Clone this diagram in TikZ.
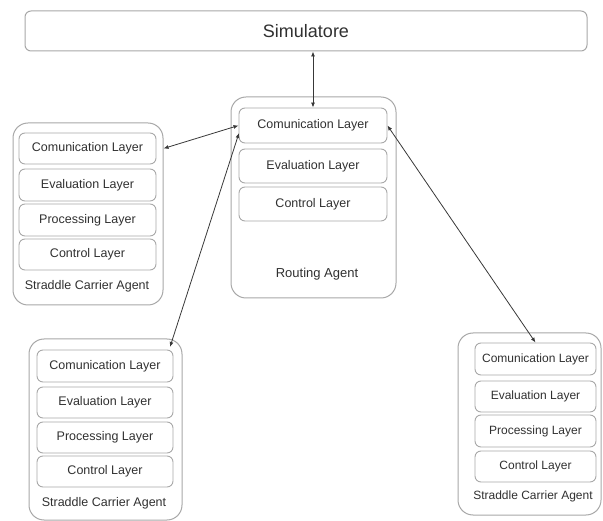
\documentclass[tikz,border=0pt]{standalone}
\usepackage{fontspec}
\setmainfont{Liberation Sans}
\usetikzlibrary{arrows.meta}
\definecolor{boxline}{HTML}{A8A8A8}
\definecolor{txt}{HTML}{303030}
\definecolor{arr}{HTML}{383838}
\begin{document}
\begin{tikzpicture}[x=1pt,y=-1pt,
  outerbox/.style={draw=boxline, line width=1pt, rounded corners=15pt, inner sep=0pt},
  layerbox/.style={draw=boxline, line width=0.9pt, rounded corners=6pt, inner sep=0pt, text=txt,
     font=\fontsize{12.5}{14}\selectfont},
  agentlabel/.style={text=txt, inner sep=0pt, font=\fontsize{12.5}{14}\selectfont},
  link/.style={draw=arr, line width=0.8pt, {Latex[length=5pt,width=4pt]}-{Latex[length=5pt,width=4pt]}}
]
\useasboundingbox (0,0) rectangle (603,521);

% Simulatore
\node[draw=boxline, line width=1pt, rounded corners=6pt, minimum width=562pt, minimum height=40pt,
  inner sep=0pt, text=txt, font=\fontsize{18}{20}\selectfont] (sim) at (306,31) {Simulatore};

% Left straddle carrier agent
\node[outerbox, minimum width=150pt, minimum height=182pt] (sca) at (88,214) {};
\node[layerbox, minimum width=137pt, minimum height=31pt] (acomm) at (87.5,148.5) {Comunication Layer};
\node[layerbox, minimum width=137pt, minimum height=32pt] (aeval) at (87.5,185) {Evaluation Layer};
\node[layerbox, minimum width=137pt, minimum height=32pt] (aproc) at (87.5,220) {Processing Layer};
\node[layerbox, minimum width=137pt, minimum height=31pt] (actrl) at (87.5,254.5) {Control Layer};
\node[agentlabel] (alab) at (87,286) {Straddle Carrier Agent};

% Routing agent
\node[outerbox, minimum width=165pt, minimum height=201pt] (ra) at (313.5,197.5) {};
\node[layerbox, minimum width=148pt, minimum height=35pt] (rcomm) at (313,125.5) {Comunication Layer};
\node[layerbox, minimum width=148pt, minimum height=34pt] (reval) at (313,166) {Evaluation Layer};
\node[layerbox, minimum width=148pt, minimum height=34pt] (rctrl) at (313,204) {Control Layer};
\node[agentlabel, font=\fontsize{13}{15}\selectfont] (rlab) at (317,274) {Routing Agent};

% Lower-left straddle carrier agent
\node[outerbox, minimum width=153pt, minimum height=181pt] (scb) at (105.5,429.5) {};
\node[layerbox, minimum width=136pt, minimum height=32pt] (bcomm) at (105,366) {Comunication Layer};
\node[layerbox, minimum width=136pt, minimum height=31pt] (beval) at (105,402.5) {Evaluation Layer};
\node[layerbox, minimum width=136pt, minimum height=31pt] (bproc) at (105,437.5) {Processing Layer};
\node[layerbox, minimum width=136pt, minimum height=31pt] (bctrl) at (105,471.5) {Control Layer};
\node[agentlabel] (blab) at (104,503) {Straddle Carrier Agent};

% Lower-right straddle carrier agent
\node[outerbox, minimum width=143pt, minimum height=182pt] (scc) at (529.5,424) {};
\node[layerbox, minimum width=121pt, minimum height=32pt, font=\fontsize{12}{14}\selectfont] (ccomm) at (535.5,359) {Comunication Layer};
\node[layerbox, minimum width=121pt, minimum height=31pt, font=\fontsize{12}{14}\selectfont] (ceval) at (535.5,396.5) {Evaluation Layer};
\node[layerbox, minimum width=121pt, minimum height=32pt, font=\fontsize{12}{14}\selectfont] (cproc) at (535.5,431) {Processing Layer};
\node[layerbox, minimum width=121pt, minimum height=31pt, font=\fontsize{12}{14}\selectfont] (cctrl) at (535.5,466.5) {Control Layer};
\node[agentlabel, font=\fontsize{12}{14}\selectfont] (clab) at (533,496) {Straddle Carrier Agent};

% connector end points
\coordinate (simfoot) at (rcomm.north |- sim.south);
\coordinate (aend) at (acomm.east -| sca.east);
\coordinate (bend) at (170,347);
\coordinate (rin) at (239,133);

% connectors
\draw[link] (simfoot) -- (rcomm.north);
\draw[link] (aend) -- (rcomm.west);
\draw[link] (bend) -- (rin);
\draw[link] (rcomm.east) -- (ccomm.north);
\end{tikzpicture}
\end{document}
